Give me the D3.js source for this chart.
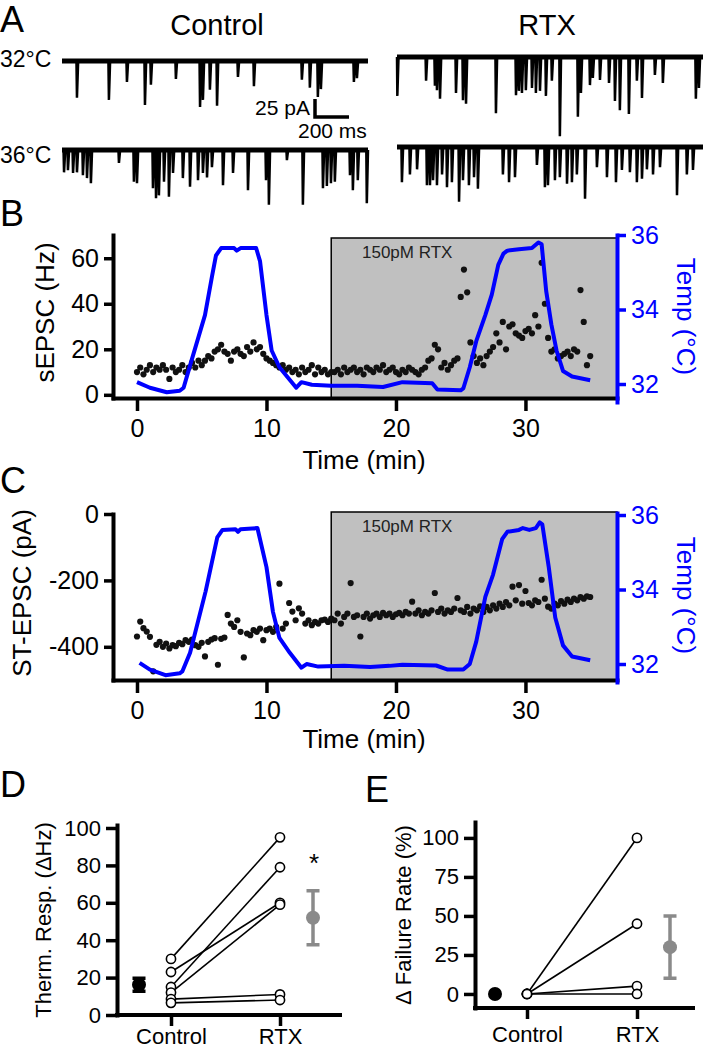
<!DOCTYPE html>
<html>
<head>
<meta charset="utf-8">
<script src="https://cdn.jsdelivr.net/npm/d3@7"></script>
<style>
body { margin: 0; background: #fff; }
svg { display: block; }
</style>
</head>
<body>
<svg id="fig" width="704" height="1050"></svg>
<script>
// ---- data ----

// panel A: synaptic events in each 1.8 s sweep, [time ms, amplitude pA]
const traceLen = 1800
const ctl32Events = [[88,51],[276,54],[382,29],[488,61],[523,33],[670,25],[812,64],[829,54],[870,40],[912,62],[1035,22],[1129,35],[1411,26],[1458,37],[1505,50],[1523,39],[1717,29],[1735,24]]
const ctl36Events = [[12,31],[35,28],[65,32],[88,31],[123,35],[147,39],[170,46],[335,18],[423,44],[441,46],[535,53],[553,67],[570,63],[600,44],[629,65],[653,32],[711,39],[753,51],[800,42],[829,32],[853,38],[882,24],[947,49],[1006,32],[1094,56],[1200,42],[1217,76],[1323,14],[1417,76],[1535,53],[1558,50],[1582,46],[1605,44],[1694,35],[1711,56],[1740,42],[1793,74]]
const rtx32Events = [[2,54],[171,33],[223,40],[235,46],[253,58],[347,50],[388,60],[406,65],[582,78],[700,53],[717,47],[735,50],[758,46],[794,43],[817,50],[841,47],[876,54],[911,33],[958,110],[1064,83],[1082,50],[1135,39],[1152,29],[1194,32],[1247,36],[1282,61],[1311,74],[1364,79],[1411,33],[1441,57],[1517,25],[1564,36],[1758,58],[1776,43]]
const rtx36Events = [[29,49],[76,38],[118,31],[176,53],[194,53],[212,46],[235,53],[265,38],[294,56],[323,49],[365,76],[388,46],[423,53],[453,42],[476,58],[623,38],[659,49],[694,42],[823,25],[870,56],[888,53],[929,46],[958,42],[1000,51],[1029,49],[1058,38],[1106,72],[1176,28],[1235,42],[1288,49],[1323,32],[1370,35],[1411,49],[1441,44],[1470,31],[1506,38],[1547,28],[1647,67],[1705,38],[1741,32]]

// panels B, C: one value every 0.25 min from 0 to 35 min
const timeStep = 0.25
const rtxStart = 15
const sEPSC = [10,12,9,11,13,10,12,11,13,11,7,12,10,
  11,13,10,12,14,12,15,13,
  15,17,16,19,20,22,19,18,
  15,19,20,18,17,21,19,23,
  20,21,18,16,15,14,13,12,
  13,11,12,10,11,9,12,10,11,13,9,12,10,11,9,10,
  10,11,9,12,10,11,12,10,11,9,12,11,10,12,11,13,10,11,12,10,9,11,10,12,11,10,9,11,
  12,15,16,22,20,12,14,11,13,15,16,
  43,55,45,23,17,14,16,13,17,19,21,27,23,32,20,30,31,27,26,25,28,29,27,35,30,58,40,25,19,20,16,17,18,19,17,20,19,46,32,13,17]
const stEPSC = [-369,-324,-344,-354,-370,-474,-394,-385,-400,-390,-405,-395,-398,-388,-392,-380,-385,-378,-395,-400,
  -388,-429,-385,-378,-374,-454,-376,-372,-304,-330,-340,-320,-355,-432,-360,-365,-350,-355,-345,-380,
  -350,-345,-355,-340,-210,-345,-330,-268,-294,-320,-284,-300,-330,-320,-335,-325,-330,-320,-318,-325,
  -315,-320,-300,-330,-310,-300,-208,-310,-305,-369,-310,-300,-315,-305,-300,-310,-298,-305,-300,-310,
  -302,-298,-305,-295,-300,-264,-300,-290,-305,-295,-300,-290,-238,-295,-285,-300,-290,-295,-285,-253,
  -290,-295,-280,-300,-285,-290,-278,-295,-280,-290,-275,-285,-270,-280,-265,-275,-219,-260,-214,-270,
  -232,-268,-275,-260,-265,-198,-255,-279,-285,-270,-275,-262,-270,-258,-265,-255,-260,-250,-255,-248,-250]
// bath temperature, [min, degC]
const tempB = [[0,32.05],[1,31.9],[2.3,31.78],[3.3,31.82],[3.6,31.9],[4.1,32.5],[5.25,33.85],[5.8,34.9],[6.1,35.45],[6.5,35.65],[7.5,35.65],[7.7,35.58],[8,35.65],[9.2,35.65],[9.5,35.3],[10,33.85],[10.4,32.9],[11,32.45],[12.3,31.9],[12.7,32.05],[13.5,31.98],[15,31.95],[17,31.95],[19,31.92],[20.5,32.05],[22.8,32.02],[23.2,31.85],[25,31.83],[25.2,31.88],[25.7,32.45],[26.2,33.15],[26.9,33.85],[27.4,34.4],[27.9,35.2],[28.3,35.5],[28.6,35.58],[29.5,35.62],[30.5,35.65],[31,35.8],[31.25,35.75],[31.6,34.5],[32,33.6],[32.4,32.9],[32.9,32.35],[33.6,32.2],[35,32.1]]
const tempC = [[0.2,32.03],[1,31.85],[2.2,31.7],[3.3,31.75],[3.5,31.8],[4.1,32.3],[5.3,33.95],[6.2,35.4],[6.6,35.6],[7.6,35.62],[7.8,35.55],[8,35.62],[9.3,35.65],[10,34.6],[10.5,33.4],[11,32.7],[11.8,32.3],[12.7,31.9],[13.1,32],[14,31.93],[16,31.95],[18,31.92],[19.5,31.95],[20.5,31.98],[23.1,31.96],[24,31.85],[25.2,31.85],[25.7,32],[26.2,32.6],[26.9,33.8],[27.5,34.4],[28.2,35.35],[28.6,35.55],[29.5,35.6],[29.8,35.65],[30.3,35.6],[30.8,35.65],[31.1,35.8],[31.3,35.75],[31.8,34.6],[32.3,33.25],[32.9,32.5],[33.6,32.2],[35,32.1]]

// panels D, E: paired cells
const groups = ["Control", "RTX"]
const thermCtl = [30, 23, 15, 12, 8.5, 6.5]
const thermRtx = [95, 60, 79, 59, 11, 8]
const thermMean = [16.2, 52]
const thermSem = [3.5, 14.5]
const failCtl = [0, 0, 0, 0]
const failRtx = [100, 45, 5, 0]
const failMean = [0, 30]
const failSem = [0, 20]

// ---- drawing ----
const font = "'Liberation Sans', Arial, sans-serif"
const blue = "#0000ff"
const gray = "#8a8a8a"
const svg = d3.select("#fig").attr("font-family", font)
const plain = d => String(d)   // hyphen minus, no decimals

function label(txt, x, y, size, opts = {}) {
    const t = svg.append("text")
        .attr("x", x).attr("y", y)
        .attr("font-size", size)
        .attr("fill", opts.fill || "#000")
        .attr("text-anchor", opts.anchor || "start")
        .text(txt)
    if (opts.rotate) {
        t.attr("x", 0).attr("y", 0).attr("dy", "0.35em")
            .attr("transform", `translate(${x},${y}) rotate(${opts.rotate})`)
    }
    return t
}

function styleAxis(g, color, size, width) {
    g.attr("font-family", font).attr("font-size", size)
    g.select(".domain").attr("stroke", color).attr("stroke-width", width || 4).attr("stroke-linecap", "square")
    g.selectAll(".tick line").attr("stroke", color).attr("stroke-width", 3.5)
    g.selectAll(".tick text").attr("fill", color)
}

// panel letters
label("A", 0, 32, 36)
label("B", 0, 226, 36)
label("C", 0, 493, 36)
label("D", 0, 797, 36)
label("E", 365, 802, 36)

// panel A
label("Control", 217, 35, 29, {anchor: "middle"})
label("RTX", 547, 35, 29, {anchor: "middle"})
label("32°C", 0, 67, 23)
label("36°C", 0, 163, 23)

function drawTrace(events, x0, base) {
    const x = d3.scaleLinear().domain([0, traceLen]).range([x0, x0 + 306])
    const y = d3.scaleLinear().domain([0, 100]).range([base, base + 72])
    const pts = [[0, 0]]
    events.forEach(([t, a]) => {
        pts.push([Math.max(0, t - 3), 0], [t, a], [t + 7, 0])
    })
    pts.push([traceLen, 0])
    svg.append("line")
        .attr("x1", x(0)).attr("x2", x(traceLen))
        .attr("y1", y(0)).attr("y2", y(0))
        .attr("stroke", "#000").attr("stroke-width", 5)
    svg.append("path")
        .attr("d", d3.line().x(d => x(d[0])).y(d => y(d[1]))(pts))
        .attr("fill", "none").attr("stroke", "#000").attr("stroke-width", 2.5)
    return {x, y}
}

const tr = drawTrace(ctl32Events, 62, 61)
drawTrace(ctl36Events, 62, 150)
drawTrace(rtx32Events, 397, 57)
drawTrace(rtx36Events, 397, 147)

// scale bar 25 pA / 200 ms
const sbX = 315, sbY = 117
const sbH = tr.y(25) - tr.y(0), sbW = tr.x(200) - tr.x(0)
svg.append("path")
    .attr("d", `M${sbX},${sbY - sbH}V${sbY}H${sbX + sbW}`)
    .attr("fill", "none").attr("stroke", "#000").attr("stroke-width", 3.5)
label("25 pA", 310, 115, 21, {anchor: "end"})
label("200 ms", 298, 138, 21)

// panels B and C
function drawTimecourse(o) {
    const x = d3.scaleLinear().domain([-1.853, 37.07]).range([113, 617])
    const y = d3.scaleLinear().domain(o.yDomain).range([o.bottom, o.top])
    const yT = d3.scaleLinear().domain(o.tDomain).range(o.tRange)

    svg.append("rect")
        .attr("x", x(rtxStart)).attr("y", o.rectTop)
        .attr("width", x.range()[1] - x(rtxStart)).attr("height", o.bottom - o.rectTop)
        .attr("fill", "#c0c0c0").attr("stroke", "#000").attr("stroke-width", 1.5)
    label("150pM RTX", 362, o.rectTop + 20, 17, {fill: "#222"})

    svg.append("g").selectAll("circle")
        .data(o.values)
        .join("circle")
        .attr("cx", (d, i) => x(i * timeStep))
        .attr("cy", d => y(d))
        .attr("r", 3.1)
        .attr("fill", "#111")

    svg.append("path")
        .attr("d", d3.line().x(d => x(d[0])).y(d => yT(d[1]))(o.temp))
        .attr("fill", "none").attr("stroke", blue).attr("stroke-width", 4)
        .attr("stroke-linejoin", "round")

    const gl = svg.append("g").attr("transform", "translate(113,0)")
        .call(d3.axisLeft(y).tickValues(o.yTicks).tickFormat(plain).tickSize(9).tickPadding(5).tickSizeOuter(0))
    styleAxis(gl, "#000", 25)
    const gb = svg.append("g").attr("transform", `translate(0,${o.bottom})`)
        .call(d3.axisBottom(x).tickValues([0, 10, 20, 30]).tickFormat(plain).tickSize(13).tickPadding(8).tickSizeOuter(0))
    styleAxis(gb, "#000", 25)
    const gr = svg.append("g").attr("transform", "translate(617,0)")
        .call(d3.axisRight(yT).tickValues([32, 34, 36]).tickFormat(plain).tickSize(9).tickPadding(5).tickSizeOuter(0))
    styleAxis(gr, blue, 25)

    label(o.yTitle, o.yTitleX, (o.top + o.bottom) / 2 - 4, 26, {anchor: "middle", rotate: -90})
    label("Temp (°C)", 686, (yT.range()[0] + yT.range()[1]) / 2 - 2, 26, {anchor: "middle", rotate: 90, fill: blue})
    label("Time (min)", 364, o.titleY, 26, {anchor: "middle"})
}

drawTimecourse({
    values: sEPSC, temp: tempB,
    yDomain: [-1.4, 70.2], top: 235, bottom: 398, yTicks: [0, 20, 40, 60],
    tDomain: [31.517, 36], tRange: [402, 235],
    rectTop: 238, yTitle: "sEPSC (Hz)", yTitleX: 45, titleY: 469
})
drawTimecourse({
    values: stEPSC, temp: tempC,
    yDomain: [-500, 0], top: 514, bottom: 680, yTicks: [-400, -200, 0],
    tDomain: [31.517, 36.054], tRange: [682, 513],
    rectTop: 512, yTitle: "ST-EPSC (pA)", yTitleX: 22, titleY: 748
})

// panels D and E
function drawPaired(o) {
    const x = d3.scalePoint().domain(groups).range([o.ctrlX, o.rtxX])
    const y = d3.scaleLinear().domain(o.yDomain).range([o.bottom, o.top])

    const gl = svg.append("g").attr("transform", `translate(${o.left},0)`)
        .call(d3.axisLeft(y).tickValues(o.yTicks).tickFormat(plain).tickSize(11).tickPadding(5).tickSizeOuter(0))
    styleAxis(gl, "#000", 22)
    svg.append("line")
        .attr("x1", o.left).attr("x2", o.right).attr("y1", o.bottom).attr("y2", o.bottom)
        .attr("stroke", "#000").attr("stroke-width", 4).attr("stroke-linecap", "square")
    const gb = svg.append("g").attr("transform", `translate(0,${o.bottom})`)
        .call(d3.axisBottom(x).tickSize(11).tickPadding(o.xPad).tickSizeOuter(0))
    styleAxis(gb, "#000", 22)
    gb.select(".domain").remove()

    const pairs = o.ctl.map((c, i) => [c, o.rtx[i]])
    svg.append("g").selectAll("line")
        .data(pairs)
        .join("line")
        .attr("x1", x("Control")).attr("x2", x("RTX"))
        .attr("y1", d => y(d[0])).attr("y2", d => y(d[1]))
        .attr("stroke", "#000").attr("stroke-width", 1.6)
    const open = svg.append("g")
    open.selectAll(".c").data(o.ctl).join("circle")
        .attr("cx", x("Control")).attr("cy", d => y(d))
    open.selectAll(".r").data(o.rtx).join("circle")
        .attr("cx", x("RTX")).attr("cy", d => y(d))
    open.selectAll("circle").attr("r", 4.6).attr("fill", "#fff").attr("stroke", "#000").attr("stroke-width", 1.6)

    // mean +/- sem, placed beside each group
    const means = groups.map((g, i) => ({
        cx: x(g) + (i === 0 ? -32 : 33), m: o.mean[i], s: o.sem[i], color: i === 0 ? "#000" : gray
    }))
    means.forEach(d => {
        if (d.s > 0) {
            svg.append("path")
                .attr("d", `M${d.cx - 6.5},${y(d.m + d.s)}H${d.cx + 6.5}M${d.cx},${y(d.m + d.s)}V${y(d.m - d.s)}M${d.cx - 6.5},${y(d.m - d.s)}H${d.cx + 6.5}`)
                .attr("stroke", d.color).attr("stroke-width", 3.5).attr("fill", "none")
        }
        svg.append("circle").attr("cx", d.cx).attr("cy", y(d.m)).attr("r", 7).attr("fill", d.color)
    })

    label(o.yTitle, o.yTitleX, (o.top + o.bottom) / 2, 22, {anchor: "middle", rotate: -90})
    return {x, y}
}

drawPaired({
    ctl: thermCtl, rtx: thermRtx, mean: thermMean, sem: thermSem,
    left: 117, right: 340, ctrlX: 171, rtxX: 280, xPad: 2,
    yDomain: [0, 101.6], top: 825, bottom: 1015, yTicks: [0, 20, 40, 60, 80, 100],
    yTitle: "Therm. Resp. (ΔHz)", yTitleX: 43
})
label("*", 314, 872, 26, {anchor: "middle"})

drawPaired({
    ctl: failCtl, rtx: failRtx, mean: failMean, sem: failSem,
    left: 475, right: 693, ctrlX: 527, rtxX: 637, xPad: 7,
    yDomain: [-9, 110.2], top: 822, bottom: 1008, yTicks: [0, 25, 50, 75, 100],
    yTitle: "Δ Failure Rate (%)", yTitleX: 403
})
</script>
</body>
</html>
